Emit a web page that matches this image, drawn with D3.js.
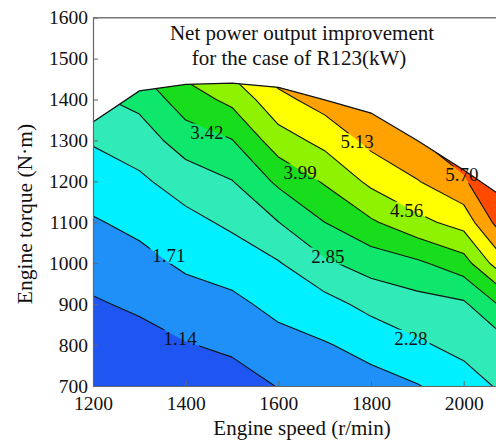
<!DOCTYPE html>
<html>
<head>
<meta charset="utf-8">
<script src="https://cdn.jsdelivr.net/npm/d3@7"></script>
<style>
  body { margin: 0; background: #fff; }
  svg { display: block; }
  text { font-family: "Liberation Serif", "Times New Roman", serif; fill: #111; }
</style>
</head>
<body>
<svg id="chart" width="496" height="440"></svg>
<script>
// Grid of the engine map: speeds across, torque levels up
const speeds  = [1200, 1300, 1400, 1500, 1600, 1700, 1800, 1900, 2000, 2100];
const torques = [700, 800, 900, 1000, 1100, 1200, 1300, 1400, 1500];

// Net power output improvement (kW), one row per torque level, columns follow speeds
const power = [
  [0.49, 0.63, 0.75, 0.90, 1.16, 1.41, 1.52, 1.68, 2.02, 2.44],
  [0.79, 0.93, 1.11, 1.24, 1.51, 1.67, 1.88, 2.20, 2.44, 2.76],
  [1.08, 1.23, 1.46, 1.58, 1.87, 2.08, 2.45, 2.63, 2.76, 3.67],
  [1.37, 1.54, 1.80, 1.96, 2.24, 2.76, 3.08, 3.32, 3.74, 5.20],
  [1.66, 1.85, 2.11, 2.39, 2.84, 3.42, 3.91, 4.40, 4.78, 6.27],
  [1.98, 2.18, 2.54, 2.83, 3.53, 4.05, 4.69, 5.10, 5.59, 6.90],
  [2.33, 2.56, 3.12, 3.40, 4.30, 4.73, 5.29, 5.65, 6.26, 7.50],
  [2.76, 3.01, 3.72, 4.13, 4.97, 5.37, 5.84, 6.18, 6.92, 8.10],
  [3.20, 3.59, 4.32, 4.91, 5.58, 6.04, 6.38, 6.72, 7.58, 8.70]
];

// Full-load torque limit at each speed
const maxTorque = [1345, 1421, 1437, 1440, 1430, 1399, 1367, 1300, 1228, 1150];

// Contour levels and the fill of each band (below the first level, then above each level)
const levels = [1.14, 1.71, 2.28, 2.85, 3.42, 3.99, 4.56, 5.13, 5.70];
const bandColors = ["#1f56f2", "#1e90f8", "#00f0ff", "#30eab8", "#0ee66c",
                    "#17dd1c", "#8ff200", "#ffff00", "#ffa200", "#ff4a00"];

// Where each level's value is written along its line
const labelSpeed  = [1388, 1364, 1886, 1707, 1446, 1647, 1877, 1770, 1996];
const labelTorque = [817, 1020, 817, 1018, 1321, 1223, 1130, 1297, 1216];

const xTicks = [1200, 1400, 1600, 1800, 2000];
const yTicks = [700, 800, 900, 1000, 1100, 1200, 1300, 1400, 1500, 1600];

const svg = d3.select("#chart");
const x = d3.scaleLinear().domain([1200, 2100]).range([93, 510]);
const y = d3.scaleLinear().domain([700, 1600]).range([386, 17.7]);

// contour grid coordinates -> pixels (grid values sit at cell centres)
const gx = d3.scaleLinear().domain([0.5, speeds.length - 0.5])
  .range([x(speeds[0]), x(speeds[speeds.length - 1])]);
const gy = d3.scaleLinear().domain([0.5, torques.length - 0.5])
  .range([y(torques[0]), y(torques[torques.length - 1])]);

const flat = power.flat();
const contours = d3.contours()
  .size([speeds.length, torques.length])
  .thresholds(levels)(flat);

function ringsToPath(mp) {
  return mp.coordinates.map(poly => poly.map(ring =>
    "M" + ring.map(p => gx(p[0]).toFixed(2) + "," + gy(p[1]).toFixed(2)).join("L") + "Z"
  ).join("")).join("");
}

const defs = svg.append("defs");

// operating region: under the full-load curve
const limitPts = speeds.map((s, i) => [x(s), y(maxTorque[i])]);
const fieldPts = [[x(speeds[0]), y(700)], ...limitPts, [x(speeds[speeds.length - 1]), y(700)]];
defs.append("clipPath").attr("id", "field")
  .append("path").attr("d", "M" + fieldPts.map(p => p.join(",")).join("L") + "Z");

// filled bands
const bands = svg.append("g").attr("clip-path", "url(#field)");
bands.append("rect")
  .attr("x", x(1200)).attr("y", y(1600))
  .attr("width", x(2100) - x(1200)).attr("height", y(700) - y(1600))
  .attr("fill", bandColors[0]);
bands.selectAll("path.band").data(contours).join("path")
  .attr("class", "band")
  .attr("d", ringsToPath)
  .attr("fill", (d, i) => bandColors[i + 1]);

// labels (placed first so their boxes can cut gaps into the lines)
const labelG = svg.append("g");
const labels = labelG.selectAll("text").data(levels).join("text")
  .attr("x", (d, i) => x(labelSpeed[i]))
  .attr("y", (d, i) => y(labelTorque[i]))
  .attr("dy", "0.35em")
  .attr("text-anchor", "middle")
  .style("font-size", "19px")
  .text(d => d.toFixed(2));

const mask = defs.append("mask").attr("id", "gaps").attr("maskUnits", "userSpaceOnUse")
  .attr("x", 0).attr("y", 0).attr("width", 496).attr("height", 440);
mask.append("rect").attr("width", 496).attr("height", 440).attr("fill", "#fff");
labels.each(function () {
  const b = this.getBBox();
  mask.append("rect")
    .attr("x", b.x - 2).attr("y", b.y + 2)
    .attr("width", b.width + 4).attr("height", b.height - 4)
    .attr("fill", "#000");
});

// contour lines
svg.append("g").attr("clip-path", "url(#field)")
  .append("g").attr("mask", "url(#gaps)")
  .selectAll("path").data(contours).join("path")
  .attr("d", ringsToPath)
  .attr("fill", "none")
  .attr("stroke", "#111")
  .attr("stroke-width", 1.1)
  .attr("stroke-linejoin", "round");

// full-load curve
svg.append("path")
  .attr("d", d3.line()(limitPts))
  .attr("fill", "none")
  .attr("stroke", "#111")
  .attr("stroke-width", 1.3);

labelG.raise();

// axes
const axisColor = "#666";
const gxAxis = svg.append("g").attr("transform", `translate(0,${y(700)})`)
  .call(d3.axisBottom(x).tickValues(xTicks).tickSizeInner(-5).tickSizeOuter(0).tickPadding(10)
    .tickFormat(d3.format("d")));
const gyAxis = svg.append("g").attr("transform", `translate(${x(1200)},0)`)
  .call(d3.axisLeft(y).tickValues(yTicks).tickSizeInner(-5).tickSizeOuter(0).tickPadding(5)
    .tickFormat(d3.format("d")));
[gxAxis, gyAxis].forEach(g => {
  g.select(".domain").attr("stroke", axisColor).attr("stroke-width", 1.2);
  g.selectAll(".tick line").attr("stroke", axisColor);
  g.selectAll(".tick text").style("font-size", "19.5px")
    .style("font-family", '"Liberation Serif", "Times New Roman", serif').attr("fill", "#111");
});

// top frame
svg.append("line")
  .attr("x1", x(1200)).attr("x2", x(2100))
  .attr("y1", y(1600)).attr("y2", y(1600))
  .attr("stroke", "#777").attr("stroke-width", 1.6);

// titles
svg.append("text").attr("x", 302).attr("y", 435).attr("text-anchor", "middle")
  .style("font-size", "21px").text("Engine speed (r/min)");
svg.append("text").attr("transform", "translate(32,214) rotate(-90)").attr("text-anchor", "middle")
  .style("font-size", "21.5px").text("Engine torque (N·m)");
svg.append("text").attr("x", 302).attr("y", 40).attr("text-anchor", "middle")
  .style("font-size", "21px").text("Net power output improvement");
svg.append("text").attr("x", 299).attr("y", 65).attr("text-anchor", "middle")
  .style("font-size", "21px").text("for the case of R123(kW)");
</script>
</body>
</html>
